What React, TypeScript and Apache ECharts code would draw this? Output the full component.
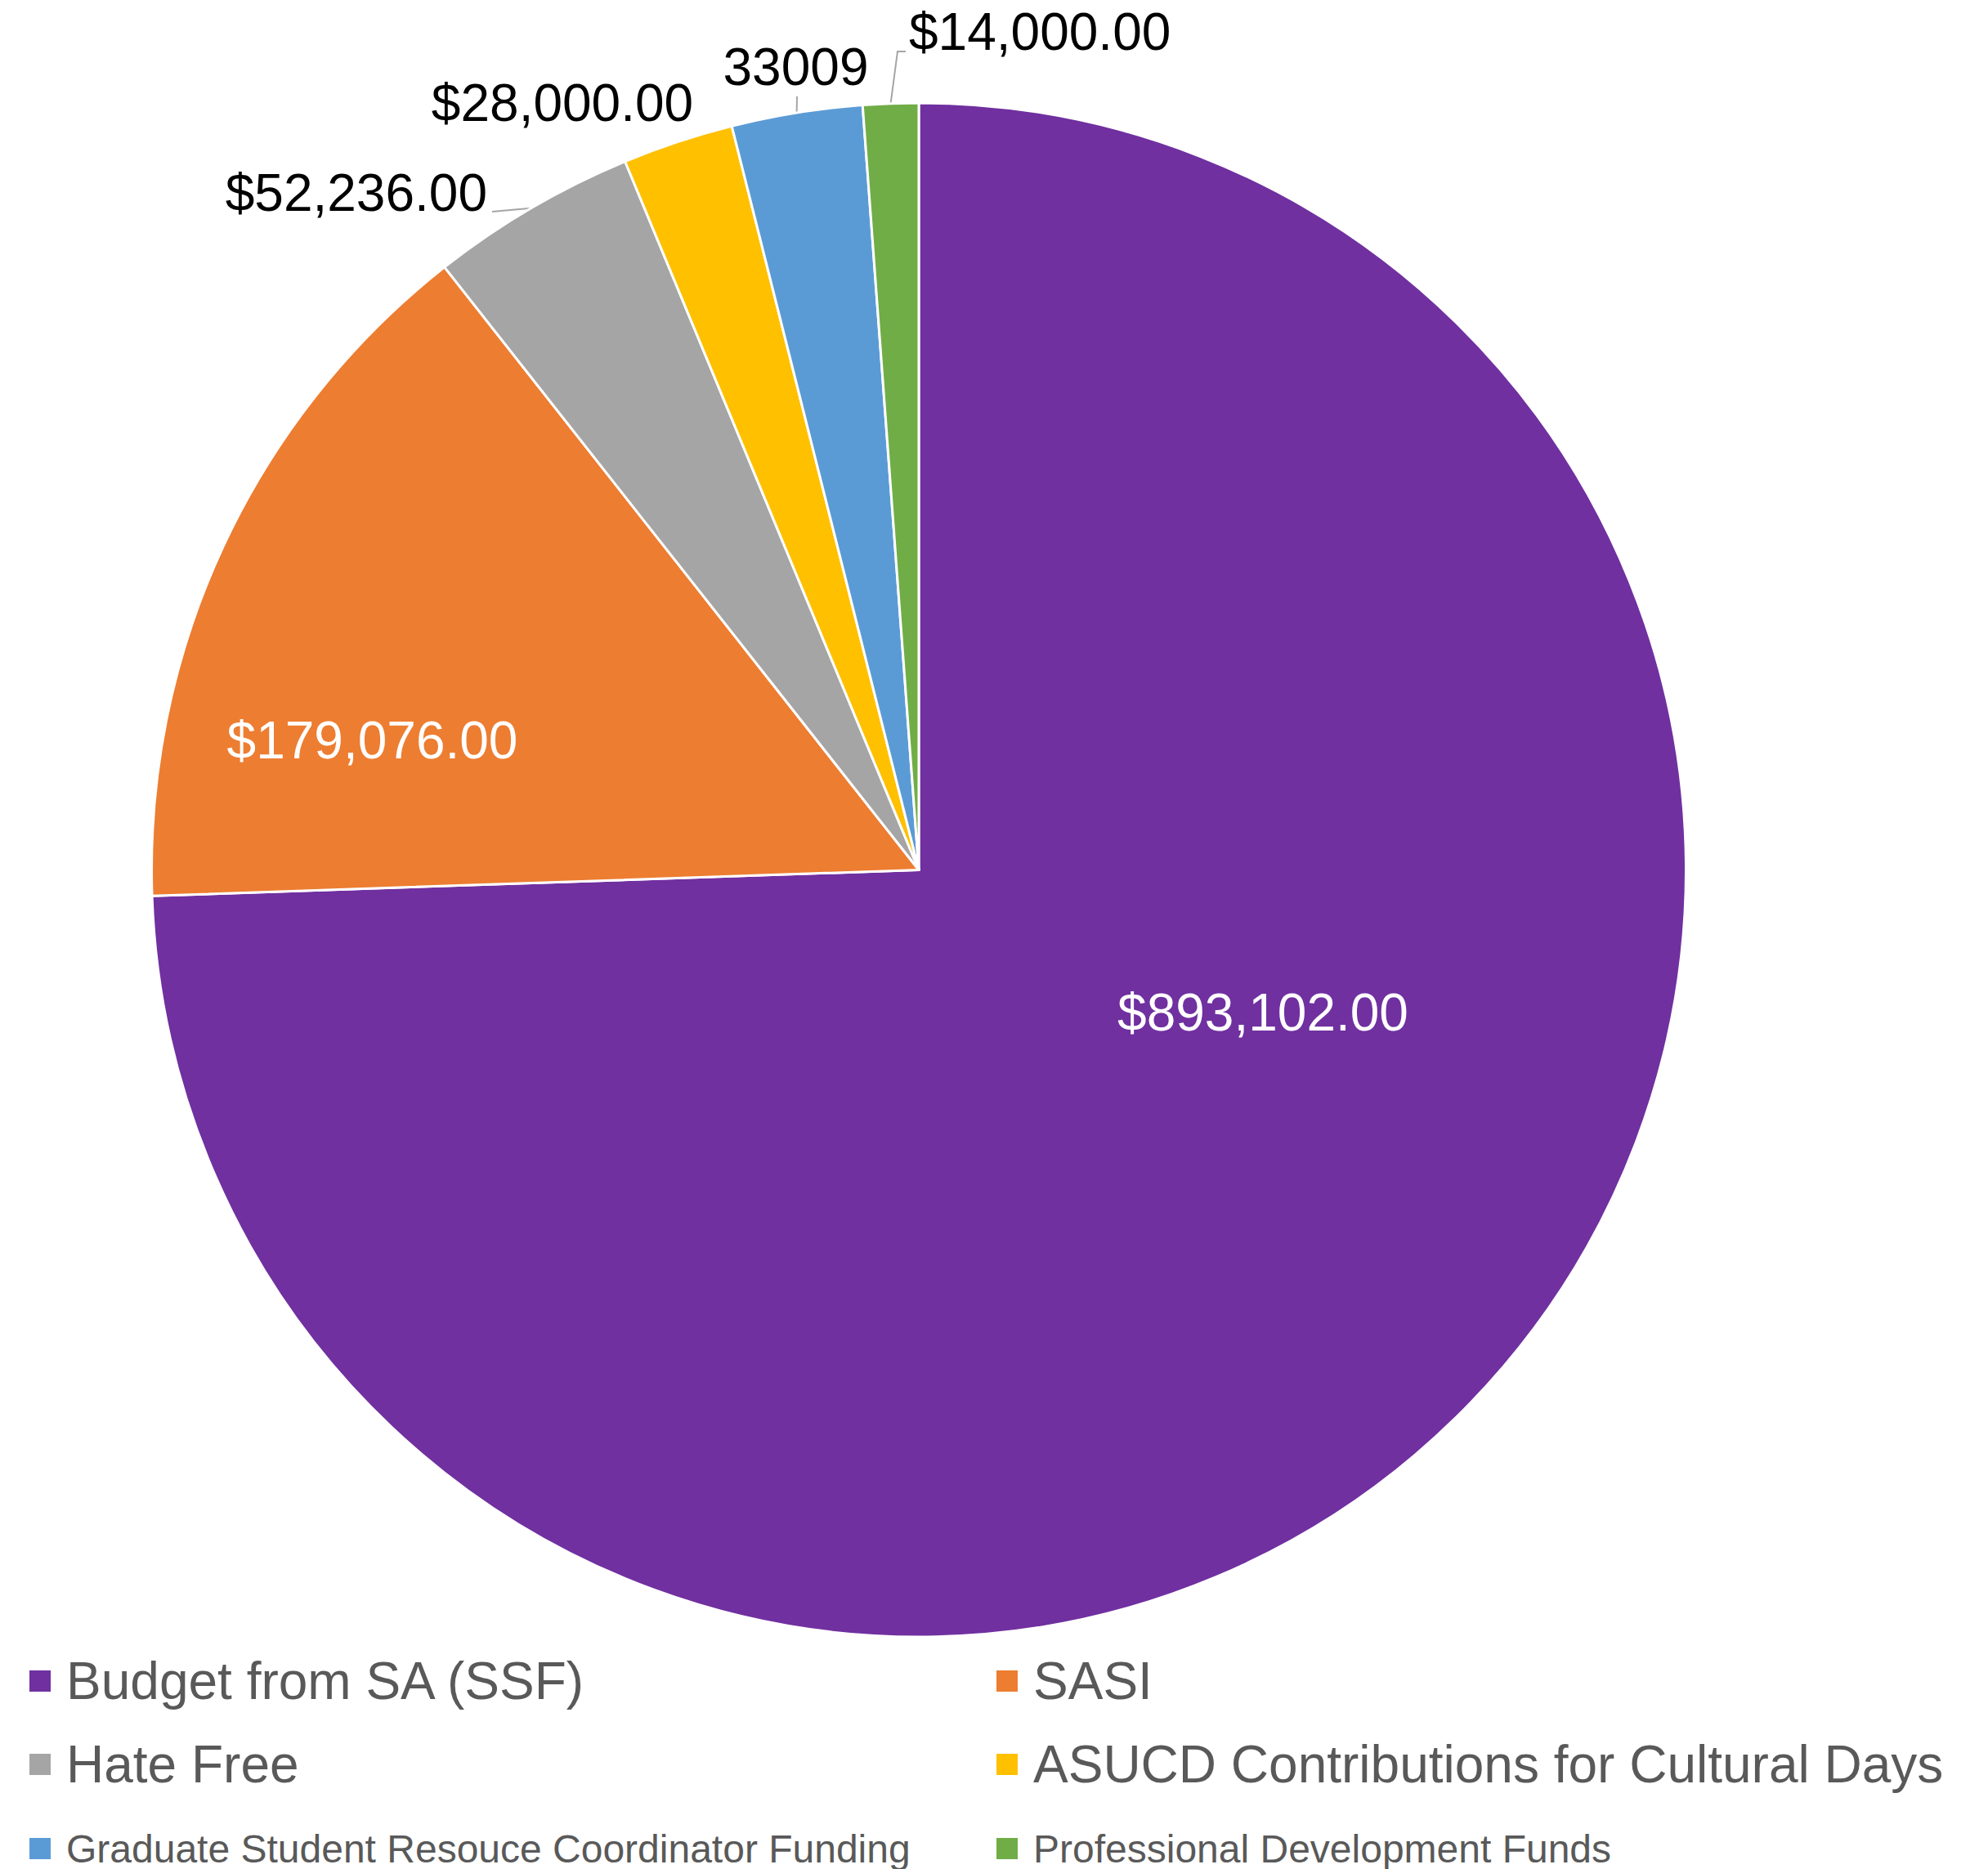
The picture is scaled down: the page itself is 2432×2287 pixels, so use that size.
import React, { useEffect, useRef } from "react";
import * as echarts from "echarts";

const categories = [
  "Budget from SA (SSF)",
  "SASI",
  "Hate Free",
  "ASUCD Contributions for Cultural Days",
  "Graduate Student Resouce Coordinator Funding",
  "Professional Development Funds",
];
const values = [893102, 179076, 52236, 28000, 33009, 14000];
const labelFormats = ["currency", "currency", "currency", "currency", "plain", "currency"];
const colors = ["#7030A0", "#ED7D31", "#A5A5A5", "#FFC000", "#5B9BD5", "#70AD47"];
const labelColors = ["#FFFFFF", "#FFFFFF", "#000000", "#000000", "#000000", "#000000"];

// label layout (pixels), line offsets relative to the label anchor
const labelSpots: any[] = [
  { x: 1545, y: 1239, align: "center", line: null },
  { x: 455.5, y: 906, align: "center", line: null },
  { x: 596, y: 236, align: "right", line: [[6, 23]] },
  { x: 688, y: 125.5, align: "center", line: [] },
  { x: 973.5, y: 81.5, align: "center", line: [[1.5, 36.5]] },
  { x: 1112, y: 39, align: "left", line: [[-14, 24], [-4, 24]] },
];

const legendCells = [
  { left: 34, top: 2025, size: 64 },
  { left: 1217, top: 2025, size: 64 },
  { left: 34, top: 2127, size: 64 },
  { left: 1217, top: 2127, size: 64 },
  { left: 34, top: 2238, size: 48 },
  { left: 1217, top: 2238, size: 48 },
];

const FONT = "'Liberation Sans', Arial, sans-serif";

function fmt(i: number, v: number) {
  if (labelFormats[i] === "plain") return String(v);
  return "$" + v.toLocaleString("en-US", { minimumFractionDigits: 2, maximumFractionDigits: 2 });
}

export default function App() {
  const ref = useRef<HTMLDivElement>(null);
  useEffect(() => {
    if (!ref.current) return;
    const chart = echarts.init(ref.current, null, { renderer: "svg" });
    const option: any = {
      animation: false,
      backgroundColor: "#ffffff",
      color: colors,
      legend: categories.map((name, i) => ({
        data: [name],
        left: legendCells[i].left,
        top: legendCells[i].top,
        padding: 0,
        icon: "rect",
        itemWidth: 28,
        itemHeight: 28,
        selectedMode: false,
        textStyle: {
          fontFamily: FONT,
          fontSize: legendCells[i].size,
          color: "#595959",
          padding: [0, 0, 0, 13],
        },
      })),
      series: [
        {
          type: "pie",
          center: [1124, 1064.5],
          radius: [0, 938.5],
          startAngle: 90,
          clockwise: true,
          avoidLabelOverlap: false,
          itemStyle: { borderColor: "#ffffff", borderWidth: 3 },
          label: {
            show: true,
            position: "outside",
            fontFamily: FONT,
            fontSize: 64,
            formatter: (p: any) => fmt(p.dataIndex, p.value),
          },
          labelLine: {
            show: true,
            length: 10,
            length2: 10,
            lineStyle: { color: "#A6A6A6", width: 2 },
          },
          labelLayout: (p: any) => {
            const s = labelSpots[p.dataIndex];
            if (!s) return {};
            const res: any = { x: s.x, y: s.y, align: s.align, verticalAlign: "middle" };
            if (s.line && p.labelLinePoints && p.labelLinePoints.length) {
              const start = p.labelLinePoints[0];
              const pts = [[start[0], start[1]]];
              if (s.line.length === 0) pts.push([start[0], start[1]]);
              s.line.forEach((o: number[]) => pts.push([s.x + o[0], s.y + o[1]]));
              res.labelLinePoints = pts;
            }
            return res;
          },
          data: categories.map((name, i) => ({
            name,
            value: values[i],
            label: {
              color: labelColors[i],
              position: i < 2 ? "inside" : "outside",
            },
            labelLine: { show: i >= 2 },
          })),
        },
      ],
    };
    chart.setOption(option);
    return () => chart.dispose();
  }, []);
  return (
    <div
      ref={ref}
      style={{ position: "fixed", left: 0, top: 0, width: 2432, height: 2287, background: "#fff" }}
    />
  );
}
